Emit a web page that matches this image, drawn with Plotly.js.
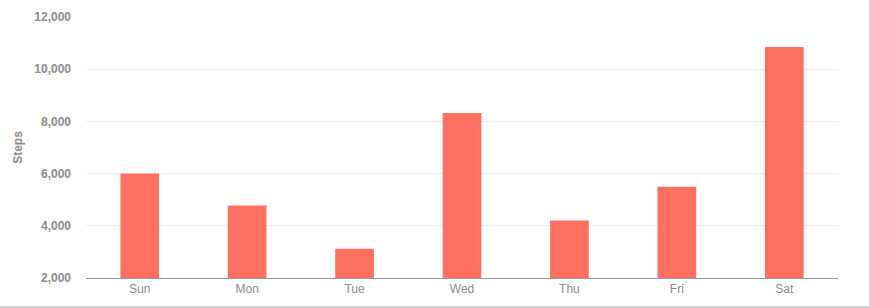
<!DOCTYPE html>
<html>
<head>
<meta charset="utf-8">
<script src="https://cdn.plot.ly/plotly-3.0.1.min.js"></script>
<style>
  html, body { margin: 0; padding: 0; background: #fff; }
  #chart { width: 869px; height: 306px; border-bottom: 2px solid #d4d4d4; }
</style>
</head>
<body>
<div id="chart"></div>
<script>
// Daily step counts for one week
const days = ["Sun", "Mon", "Tue", "Wed", "Thu", "Fri", "Sat"];
const steps = [6000, 4780, 3120, 8320, 4200, 5500, 10850];
const yTicks = [2000, 4000, 6000, 8000, 10000, 12000];

const trace = {
  type: "bar",
  x: days,
  y: steps,
  marker: { color: "#ff7060" },
  hoverinfo: "x+y"
};

const layout = {
  width: 869,
  height: 306,
  margin: { l: 86, r: 31, t: 17, b: 28, pad: 0 },
  paper_bgcolor: "#ffffff",
  plot_bgcolor: "#ffffff",
  bargap: 0.64,
  showlegend: false,
  font: { family: "Liberation Sans, Arial, sans-serif", color: "#8c8c8c", size: 12 },
  xaxis: {
    type: "category",
    showgrid: false,
    showline: true,
    linecolor: "#999999",
    linewidth: 1,
    ticks: "",
    tickfont: { size: 12, color: "#8c8c8c" }
  },
  yaxis: {
    range: [2000, 12000],
    tickvals: yTicks,
    ticktext: yTicks.map(v => v.toLocaleString("en-US")),
    showgrid: true,
    gridcolor: "#efefef",
    gridwidth: 1,
    zeroline: false,
    showline: false,
    ticks: "",
    ticklabelstandoff: 14,
    tickfont: { size: 12, color: "#8c8c8c", weight: "bold" },
    title: { text: "Steps", font: { size: 12, color: "#8c8c8c", weight: "bold" }, standoff: 9 }
  }
};

Plotly.newPlot("chart", [trace], layout, { displayModeBar: false, staticPlot: true });
</script>
</body>
</html>
